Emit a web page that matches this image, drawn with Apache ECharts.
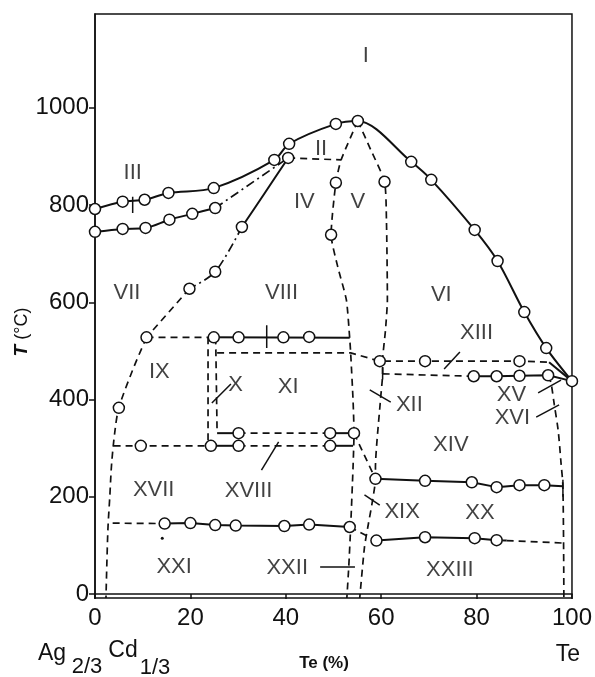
<!DOCTYPE html>
<html><head><meta charset="utf-8">
<script src="https://cdn.jsdelivr.net/npm/echarts@6/dist/echarts.min.js"></script>
<style>html,body{margin:0;padding:0;background:#fff}#c{width:595px;height:677px}</style>
</head><body><div id="c"></div><script>
const xTicks=[0,20,40,60,80,100];
const yTicks=[0,200,400,600,800,1000];

// boundary curves (x = Te %, y = T °C)
const liquidus=[[0,792],[5.8,807],[10.4,811],[15.4,825],[24.9,835],[37.6,893],[40.7,926],[50.5,967],[55.1,973],[66.3,889],[70.5,852],[79.6,749],[84.4,685],[90.0,580],[94.6,506],[100,438]];
const solidusIII=[[0,745],[5.8,751],[10.6,753],[15.6,770],[20.4,782],[25.2,794]];
const solidusIIIdd=[[25.2,794],[40.5,897]];
const boundVIIa=[[40.5,897],[35.6,825],[30.8,755]];
const boundVIIb=[[30.8,755],[25.2,663],[19.8,628]];
const boundVIIc=[[19.8,628],[10.8,528]];
const leftCurve=[[10.8,528],[7.9,461],[5.0,383],[4.2,337],[3.5,270],[3.1,200],[2.7,132],[2.3,-8]];
const lineIIbottom=[[40.5,897],[51.6,893]];
const lineIXdash=[[10.8,528],[23.7,528]];
const lineIXsolid=[[23.7,528],[53.4,527]];
const lineXleft=[[23.7,528],[23.7,305]];
const lineXright=[[25.3,528],[25.6,331]];
const lineXItop=[[25.6,496],[53.6,496],[59.7,479],[69.2,479],[89.0,479],[95.2,477]];
const lineXIIIsolid=[[95.2,477],[100,438]];
const lineXVdash=[[60.3,453],[79.4,448]];
const lineXVsolid=[[79.4,448],[84.2,448],[89.0,449],[95.0,450],[100,438]];
const lineXVIIIs1=[[25.6,331],[30.1,331]];
const lineXVIIId=[[30.1,331],[49.3,331]];
const lineXVIIIs2=[[49.3,331],[54.3,331]];
const diagXVIII=[[54.3,331],[58.8,237]];
const lineXVIId1=[[3.9,305],[24.3,305]];
const lineXVIIs1=[[24.3,305],[30.1,305]];
const lineXVIId2=[[30.1,305],[49.3,305]];
const lineXVIIs2=[[49.3,305],[54.1,305]];
const lineXX=[[58.8,237],[69.2,233],[79.0,230],[84.2,220],[89.0,224],[94.2,224],[98.1,222]];
const lineXXIdash=[[3.7,146],[14.6,145]];
const lineXXI=[[14.6,145],[20.0,146],[25.2,142],[29.5,141],[39.7,140],[44.9,143],[53.4,138]];
const diagXXII=[[53.4,138],[59.0,110]];
const lineXXIII=[[59.0,110],[69.2,117],[79.6,115],[84.2,111],[86.3,110]];
const lineXXIIIdash=[[86.3,110],[98.2,105]];
const lineA=[[55.1,973],[51.6,893],[50.5,846],[49.5,739],[50.9,673],[52.7,605],[53.4,526],[53.6,496],[54.1,399],[54.3,331],[54.1,261],[53.6,138],[53.2,56],[52.8,-8]];
const lineB=[[55.1,973],[57.8,914],[60.7,848],[61.1,770],[61.3,605],[60.9,543],[60.3,479],[60.3,453],[59.9,405],[58.8,261],[58.8,237],[58.2,193],[57.2,138],[56.5,97],[55.5,-8]];
const rightCurve=[[95.0,450],[95.6,434],[96.3,389],[97.1,337],[97.7,270],[98.1,220],[98.3,-8]];

// measured points (open circles)
const circles=[[0,792],[5.8,807],[10.4,811],[15.4,825],[24.9,835],[37.6,893],[40.7,926],[50.5,967],[55.1,973],[66.3,889],[70.5,852],[79.6,749],[84.4,685],[90.0,580],[94.6,506],[100,438],
[0,745],[5.8,751],[10.6,753],[15.6,770],[20.4,782],[25.2,794],
[30.8,755],[25.2,663],[19.8,628],[10.8,528],[5.0,383],
[24.9,528],[30.1,528],[39.5,528],[44.9,529],[40.5,897],
[50.5,846],[49.5,739],[60.7,848],
[59.7,479],[69.2,479],[89.0,479],
[79.4,448],[84.2,448],[89.0,449],[95.0,450],
[30.1,331],[49.3,331],[54.3,331],
[9.6,305],[24.3,305],[30.1,305],[49.3,305],
[58.8,237],[69.2,233],[79.0,230],[84.2,220],[89.0,224],[94.2,224],
[14.6,145],[20.0,146],[25.2,142],[29.5,141],[39.7,140],[44.9,143],[53.4,138],
[59.0,110],[69.2,117],[79.6,115],[84.2,111]];
const dots=[[14.1,115]];

// short tick marks and label pointers
const tickMarks=[
 [[7.9,784],[7.9,817]],[[36.0,506],[36.0,553]],[[60.3,442],[60.3,466]],[[98.1,200],[98.1,235]]];
const pointers=[
 [[24.5,393],[28.5,432]],[[57.6,420],[62.0,395]],[[56.5,204],[59.7,183]],[[47.2,56],[54.5,56]],
 [[73.2,463],[76.5,498]],[[92.9,414],[97.7,440]],[[92.5,364],[97.3,389]],[[34.9,255],[38.5,313]]];

const regionNames=['I','II','III','IV','V','VI','VII','VIII','IX','X','XI','XII','XIII','XIV','XV','XVI','XVII','XVIII','XIX','XX','XXI','XXII','XXIII'];
const regionPos=[[56.8,1107],[47.4,916],[7.9,866],[43.9,807],[55.1,807],[72.6,615],[6.7,619],[39.1,619],[13.5,457],[29.5,430],[40.5,426],[65.9,389],[80.0,537],[74.6,307],[87.3,409],[87.5,362],[12.3,214],[32.2,212],[64.4,169],[80.7,167],[16.6,56],[40.3,53],[74.4,49]];

const INK='#111';
const FONT='Liberation Sans';
function ln(data,kind,smooth){
  const t=kind==='solid'?'solid':(kind==='dash'?[7,5]:[9,4,2,4]);
  return {type:'line',data:data,symbol:'none',smooth:smooth||false,silent:true,z:2,
    lineStyle:{color:INK,width:kind==='solid'?2:1.7,type:t}};
}
const series=[
 ln(liquidus,'solid',0.3), ln(solidusIII,'solid',0.3), ln(solidusIIIdd,'dd'),
 ln(boundVIIa,'solid',0.3), ln(boundVIIb,'dd',0.3), ln(boundVIIc,'dash'),
 ln(leftCurve,'dash',0.3), ln(lineIIbottom,'dash'), ln(lineIXdash,'dash'), ln(lineIXsolid,'solid'),
 ln(lineXleft,'dash'), ln(lineXright,'dash'), ln(lineXItop,'dash'), ln(lineXIIIsolid,'solid'),
 ln(lineXVdash,'dash'), ln(lineXVsolid,'solid'),
 ln(lineXVIIIs1,'solid'), ln(lineXVIIId,'dash'), ln(lineXVIIIs2,'solid'), ln(diagXVIII,'dash'),
 ln(lineXVIId1,'dash'), ln(lineXVIIs1,'solid'), ln(lineXVIId2,'dash'), ln(lineXVIIs2,'solid'),
 ln(lineXX,'solid'), ln(lineXXIdash,'dash'), ln(lineXXI,'solid'), ln(diagXXII,'dash'),
 ln(lineXXIII,'solid'), ln(lineXXIIIdash,'dash'),
 ln(lineA,'dash',0.2), ln(lineB,'dash',0.2), ln(rightCurve,'dash',0.3)
];
tickMarks.concat(pointers).forEach(s=>{
  series.push({type:'line',data:s,symbol:'none',silent:true,z:2,lineStyle:{color:INK,width:1.5}});
});
series.push({type:'scatter',data:circles,symbol:'circle',symbolSize:11,silent:true,z:5,
  itemStyle:{color:'#ffffff',opacity:1,borderColor:INK,borderWidth:1.5}});
series.push({type:'scatter',data:dots,symbol:'circle',symbolSize:3,silent:true,z:5,itemStyle:{color:INK,opacity:1}});
series.push({type:'scatter',silent:true,z:6,symbolSize:1,itemStyle:{color:'rgba(0,0,0,0)'},
  data:regionNames.map((n,i)=>({name:n,value:regionPos[i]})),
  label:{show:true,position:'inside',formatter:'{b}',fontSize:22,fontFamily:FONT,color:INK}});

const chart=echarts.init(document.getElementById('c'),null,{renderer:'canvas'});
chart.setOption({
  animation:false,
  backgroundColor:'#fff',
  grid:{left:95,top:14,width:481,height:584,show:true,borderColor:INK,borderWidth:1.5,backgroundColor:'transparent'},
  xAxis:{type:'value',min:xTicks[0],max:xTicks[xTicks.length-1],interval:20,
    axisLine:{show:true,lineStyle:{color:INK,width:1.5}},
    axisTick:{show:true,inside:false,length:5,lineStyle:{color:INK,width:1.5}},
    axisLabel:{fontSize:24,fontFamily:FONT,color:INK,margin:8},
    splitLine:{show:false}},
  yAxis:{type:'value',min:-8,max:1193,
    axisLine:{show:true,lineStyle:{color:INK,width:1.5}},
    axisTick:{show:true,inside:false,length:6,customValues:yTicks,lineStyle:{color:INK,width:1.5}},
    axisLabel:{fontSize:24,fontFamily:FONT,color:INK,margin:6,customValues:yTicks,formatter:v=>String(Math.round(v))},
    splitLine:{show:false}},
  graphic:[
    {type:'text',x:22,y:332,rotation:Math.PI/2,style:{text:'{t|T} (°C)',align:'center',verticalAlign:'middle',
      fontSize:18,fontFamily:FONT,fill:INK,rich:{t:{fontStyle:'italic',fontWeight:'bold',fontSize:19,fontFamily:FONT,fill:INK}}}},
    {type:'text',x:52,y:654,style:{text:'Ag',align:'center',verticalAlign:'middle',fontSize:23,fontFamily:FONT,fill:INK}},
    {type:'text',x:87,y:667,style:{text:'2/3',align:'center',verticalAlign:'middle',fontSize:22,fontFamily:FONT,fill:INK}},
    {type:'text',x:123,y:651,style:{text:'Cd',align:'center',verticalAlign:'middle',fontSize:23,fontFamily:FONT,fill:INK}},
    {type:'text',x:155,y:668,style:{text:'1/3',align:'center',verticalAlign:'middle',fontSize:22,fontFamily:FONT,fill:INK}},
    {type:'text',x:324,y:663,style:{text:'Te (%)',align:'center',verticalAlign:'middle',fontSize:17,fontWeight:'bold',fontFamily:FONT,fill:INK}},
    {type:'text',x:568,y:655,style:{text:'Te',align:'center',verticalAlign:'middle',fontSize:23,fontFamily:FONT,fill:INK}}
  ],
  series:series
});
</script></body></html>
